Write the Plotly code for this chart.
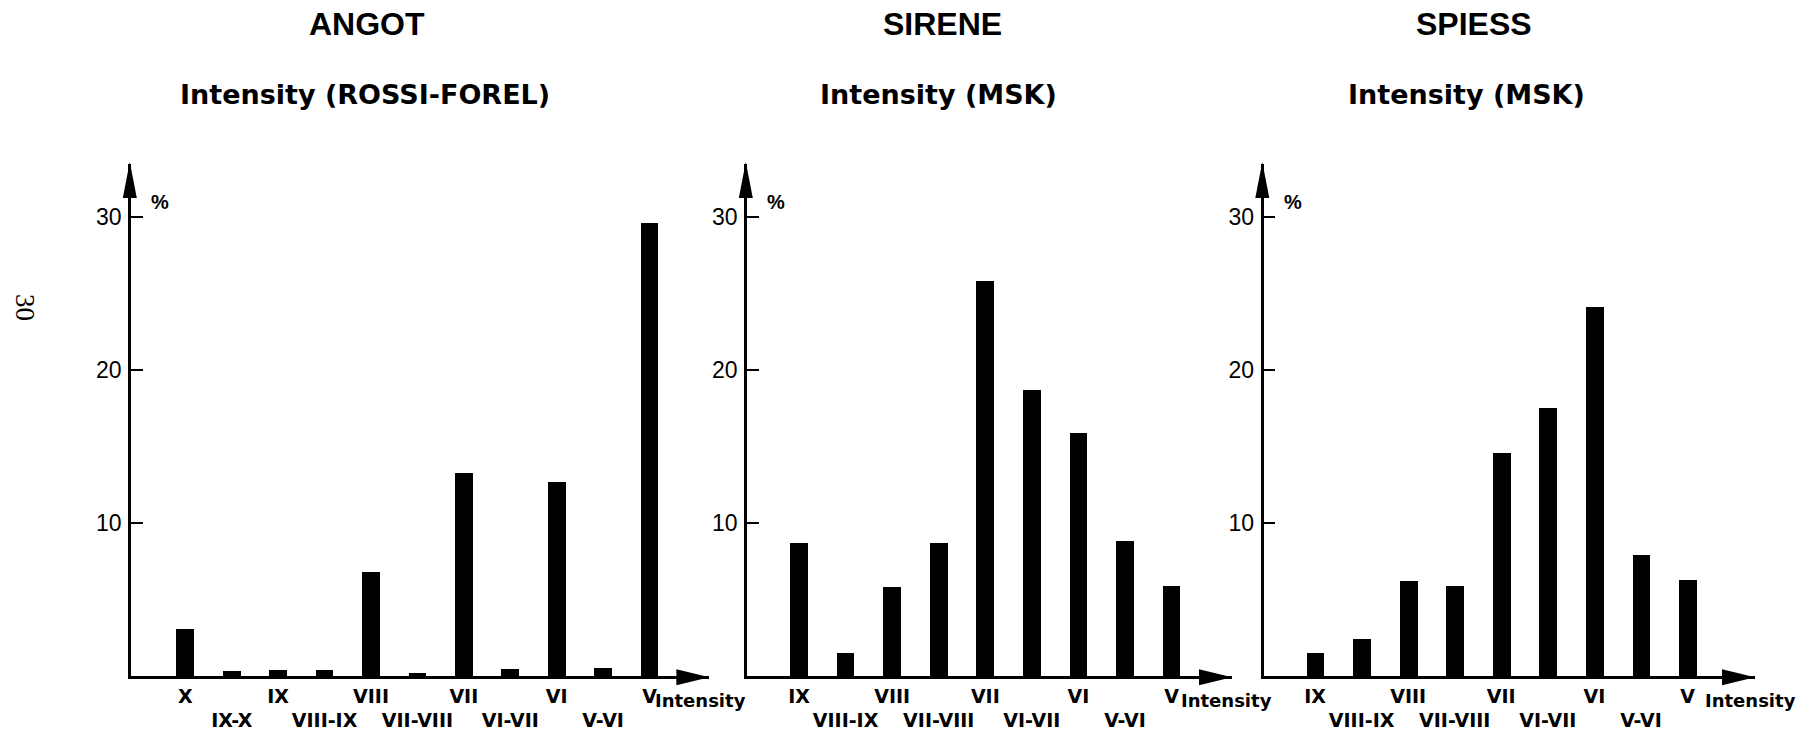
import plotly.graph_objects as go

# ---------------- data ----------------
angot_categories = ["X", "IX-X", "IX", "VIII-IX", "VIII", "VII-VIII", "VII", "VI-VII", "VI", "V-VI", "V"]
angot_percent = [3.1, 0.35, 0.4, 0.4, 6.8, 0.2, 13.3, 0.45, 12.7, 0.55, 29.6]

msk_categories = ["IX", "VIII-IX", "VIII", "VII-VIII", "VII", "VI-VII", "VI", "V-VI", "V"]
sirene_percent = [8.7, 1.5, 5.8, 8.7, 25.8, 18.7, 15.9, 8.8, 5.9]
spiess_percent = [1.5, 2.4, 6.2, 5.9, 14.6, 17.5, 24.1, 7.9, 6.3]

panel_titles = ["ANGOT", "SIRENE", "SPIESS"]
panel_subtitles = ["Intensity (ROSSI-FOREL)", "Intensity (MSK)", "Intensity (MSK)"]
y_tick_values = [10, 20, 30]
x_axis_name = "Intensity"
y_unit = "%"
page_number = "30"

# ---------------- layout helpers ----------------
W, H = 1810, 730


def fx(px):
    return px / W


def fy(py):
    return 1 - py / H


BASE_PX = 676.0
TOP_PX = 164.0
PX_PER_UNIT = 15.3
Y_TOP = (BASE_PX - TOP_PX) / PX_PER_UNIT

panels = [
    dict(cats=angot_categories, vals=angot_percent, dom=(131.0, 709.4), xr=(-1.17, 11.29),
         title_x=366.5, sub_x=365, intens_x=653),
    dict(cats=msk_categories, vals=sirene_percent, dom=(747.0, 1232.0), xr=(-1.117, 9.297),
         title_x=942.6, sub_x=938, intens_x=1179),
    dict(cats=msk_categories, vals=spiess_percent, dom=(1263.5, 1755.0), xr=(-1.107, 9.45),
         title_x=1473.6, sub_x=1466, intens_x=1703),
]

fig = go.Figure()
annotations = []
shapes = []

for i, p in enumerate(panels):
    n = i + 1
    xa = "x" if n == 1 else f"x{n}"
    ya = "y" if n == 1 else f"y{n}"
    fig.add_trace(go.Bar(
        x=p["cats"], y=p["vals"], xaxis=xa, yaxis=ya,
        marker=dict(color="black", line=dict(width=0)),
        width=0.38, showlegend=False, hoverinfo="x+y",
    ))
    ticktext = [("<br>" + c) if "-" in c else c for c in p["cats"]]
    fig.update_layout(**{
        ("xaxis" if n == 1 else f"xaxis{n}"): dict(
            domain=[fx(p["dom"][0]), fx(p["dom"][1])],
            anchor=ya, type="category", categoryorder="array", categoryarray=p["cats"],
            range=list(p["xr"]), tickmode="array", tickvals=p["cats"], ticktext=ticktext,
            showgrid=False, zeroline=False, ticks="", showline=True, linewidth=2.5,
            linecolor="black", tickangle=0, ticklabelstandoff=1,
            tickfont=dict(family="DejaVu Sans", size=19, color="black", weight="bold"),
            fixedrange=True,
        ),
        ("yaxis" if n == 1 else f"yaxis{n}"): dict(
            domain=[fy(BASE_PX), fy(TOP_PX)], anchor=xa, range=[0, Y_TOP],
            tickmode="array", tickvals=y_tick_values, ticks="inside", ticklen=12,
            tickwidth=2, tickcolor="black", showline=True, linewidth=2.5, linecolor="black",
            showgrid=False, zeroline=False, ticklabelstandoff=2,
            tickfont=dict(family="Liberation Sans", size=23, color="black"),
            fixedrange=True,
        ),
    })
    # titles
    annotations.append(dict(text=panel_titles[i], x=fx(p["title_x"]), y=fy(24), xref="paper",
                            yref="paper", showarrow=False, xanchor="center", yanchor="middle",
                            font=dict(family="Liberation Sans", size=32, color="black", weight="bold")))
    annotations.append(dict(text=panel_subtitles[i], x=fx(p["sub_x"]), y=fy(95), xref="paper",
                            yref="paper", showarrow=False, xanchor="center", yanchor="middle",
                            font=dict(family="DejaVu Sans", size=27, color="black", weight="bold")))
    # % unit
    annotations.append(dict(text=y_unit, x=fx(p["dom"][0] + 29), y=fy(202), xref="paper",
                            yref="paper", showarrow=False, xanchor="center", yanchor="middle",
                            font=dict(family="Liberation Sans", size=20, color="black", weight="bold")))
    # x axis name
    annotations.append(dict(text=x_axis_name, x=fx(p["intens_x"]), y=fy(700), xref="paper",
                            yref="paper", showarrow=False, xanchor="left", yanchor="middle",
                            font=dict(family="DejaVu Sans", size=18, color="black", weight="bold")))
    # arrowheads
    shapes.append(dict(type="path", xref="paper", yref="paper", xsizemode="pixel",
                       ysizemode="pixel", xanchor=fx(p["dom"][0] - 1.2), yanchor=fy(TOP_PX - 2),
                       path="M -7,-36 L 0,0 L 7,-36 Z", fillcolor="black", line=dict(width=0)))
    shapes.append(dict(type="path", xref="paper", yref="paper", xsizemode="pixel",
                       ysizemode="pixel", xanchor=fx(p["dom"][1]), yanchor=fy(BASE_PX + 1.2),
                       path="M -33,8 L 0,0 L -33,-8 Z", fillcolor="black", line=dict(width=0)))

annotations.append(dict(text=page_number, x=fx(25), y=fy(307), xref="paper", yref="paper",
                        showarrow=False, textangle=90, xanchor="center", yanchor="middle",
                        font=dict(family="Liberation Serif", size=27, color="black")))

fig.update_layout(
    width=W, height=H, margin=dict(l=0, r=0, t=0, b=0),
    paper_bgcolor="white", plot_bgcolor="white",
    annotations=annotations, shapes=shapes, bargap=0,
)

fig.write_html(
    "out.html",
    config={"displayModeBar": False},
    post_script="document.body.style.margin='0';document.body.style.overflow='hidden';",
)
